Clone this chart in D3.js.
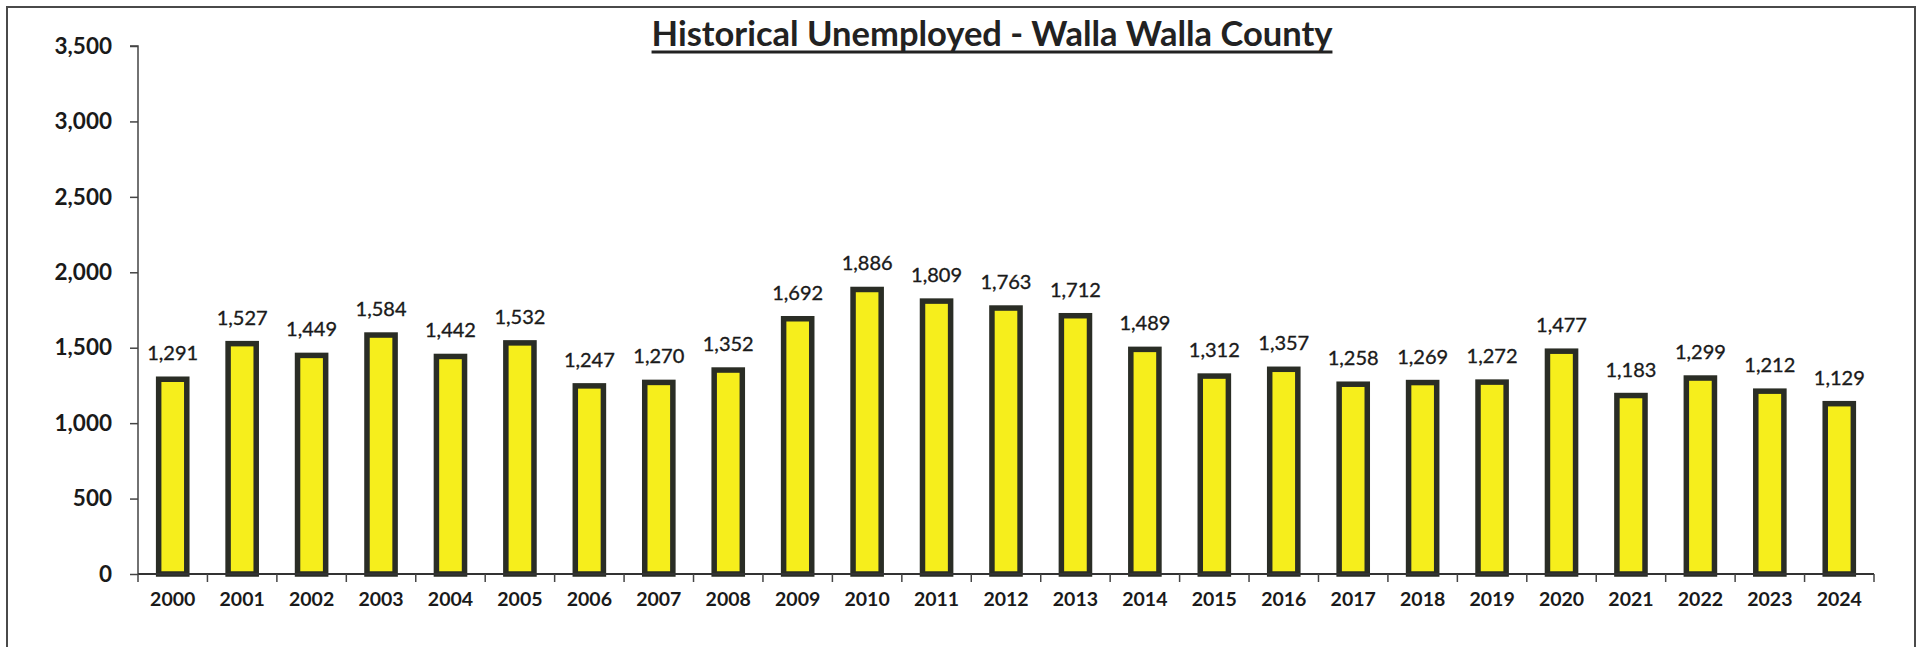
<!DOCTYPE html>
<html>
<head>
<meta charset="utf-8">
<script src="https://cdn.jsdelivr.net/npm/d3@7"></script>
<style>
  html, body { margin: 0; padding: 0; background: #fff; }
  svg { display: block; }
</style>
</head>
<body>
<svg id="chart" width="1923" height="647"></svg>
<script>
const title = "Historical Unemployed - Walla Walla County";
const years = ["2000","2001","2002","2003","2004","2005","2006","2007","2008","2009","2010","2011","2012","2013","2014","2015","2016","2017","2018","2019","2020","2021","2022","2023","2024"];
const unemployed = [1291,1527,1449,1584,1442,1532,1247,1270,1352,1692,1886,1809,1763,1712,1489,1312,1357,1258,1269,1272,1477,1183,1299,1212,1129];
const yTicks = [0,500,1000,1500,2000,2500,3000,3500];

const svg = d3.select("#chart");
const font = "Lato, 'Open Sans', sans-serif";
const ink = "#1a1a1a";

// frame
svg.append("rect").attr("x", 7).attr("y", 7).attr("width", 1908).attr("height", 645)
  .attr("fill", "none").attr("stroke", "#4a4a4a").attr("stroke-width", 2);

const plot = { left: 138, right: 1874, top: 46, bottom: 574 };

const x = d3.scaleBand().domain(years).range([plot.left, plot.right]).padding(0);
const y = d3.scaleLinear().domain([0, 3500]).range([plot.bottom, plot.top]);

const barW = x.bandwidth() * 0.405;

// bars
svg.append("g").selectAll("rect").data(years).join("rect")
  .attr("x", (d) => x(d) + x.bandwidth() / 2 - barW / 2)
  .attr("y", (d, i) => y(unemployed[i]))
  .attr("width", barW)
  .attr("height", (d, i) => y(0) - y(unemployed[i]))
  .attr("fill", "#f6ee1c")
  .attr("stroke", "#2a2d25")
  .attr("stroke-width", 5.5);

// value labels
svg.append("g").selectAll("text").data(years).join("text")
  .attr("x", (d) => x(d) + x.bandwidth() / 2)
  .attr("y", (d, i) => y(unemployed[i]) - 19)
  .attr("text-anchor", "middle")
  .attr("font-family", font)
  .attr("font-size", 20)
  .attr("fill", ink)
  .attr("stroke", ink)
  .attr("stroke-width", 0.35)
  .text((d, i) => d3.format(",")(unemployed[i]));

// y axis
const yAxis = d3.axisLeft(y).tickValues(yTicks).tickFormat(d3.format(",")).tickSize(8).tickPadding(18);
const gy = svg.append("g").attr("transform", `translate(${plot.left},0)`).call(yAxis);
gy.select(".domain").attr("stroke", "#444").attr("stroke-width", 1.5).attr("d", `M-8,${plot.top}H0V${plot.bottom}`);
gy.selectAll(".tick line").attr("stroke", "#444").attr("stroke-width", 1.5);
gy.selectAll(".tick text").attr("font-family", font).attr("font-size", 22.5).attr("font-weight", "bold").attr("fill", ink);

// x axis
const xAxis = d3.axisBottom(x).tickSize(0).tickPadding(18);
const gx = svg.append("g").attr("transform", `translate(0,${plot.bottom})`).call(xAxis);
gx.select(".domain").attr("stroke", "#333").attr("stroke-width", 2).attr("d", `M${plot.left},0H${plot.right}`);
gx.selectAll(".tick text").attr("font-family", font).attr("font-size", 19.5).attr("font-weight", "bold").attr("fill", ink);
// boundary tick marks
const bounds = years.map((d) => x(d)).concat([x(years[years.length - 1]) + x.bandwidth()]);
gx.append("g").selectAll("line").data(bounds).join("line")
  .attr("x1", (d) => d).attr("x2", (d) => d)
  .attr("y1", 0).attr("y2", 8)
  .attr("stroke", "#444").attr("stroke-width", 1.5);

// title
const t = svg.append("text")
  .attr("x", 992).attr("y", 46)
  .attr("text-anchor", "middle")
  .attr("font-family", font)
  .attr("font-size", 34.5)
  .attr("font-weight", "bold")
  .attr("fill", "#222")
  .text(title);
const tw = t.node().getComputedTextLength();
svg.append("line")
  .attr("x1", 992 - tw / 2).attr("x2", 992 + tw / 2)
  .attr("y1", 52).attr("y2", 52)
  .attr("stroke", "#222").attr("stroke-width", 3);
</script>
</body>
</html>
